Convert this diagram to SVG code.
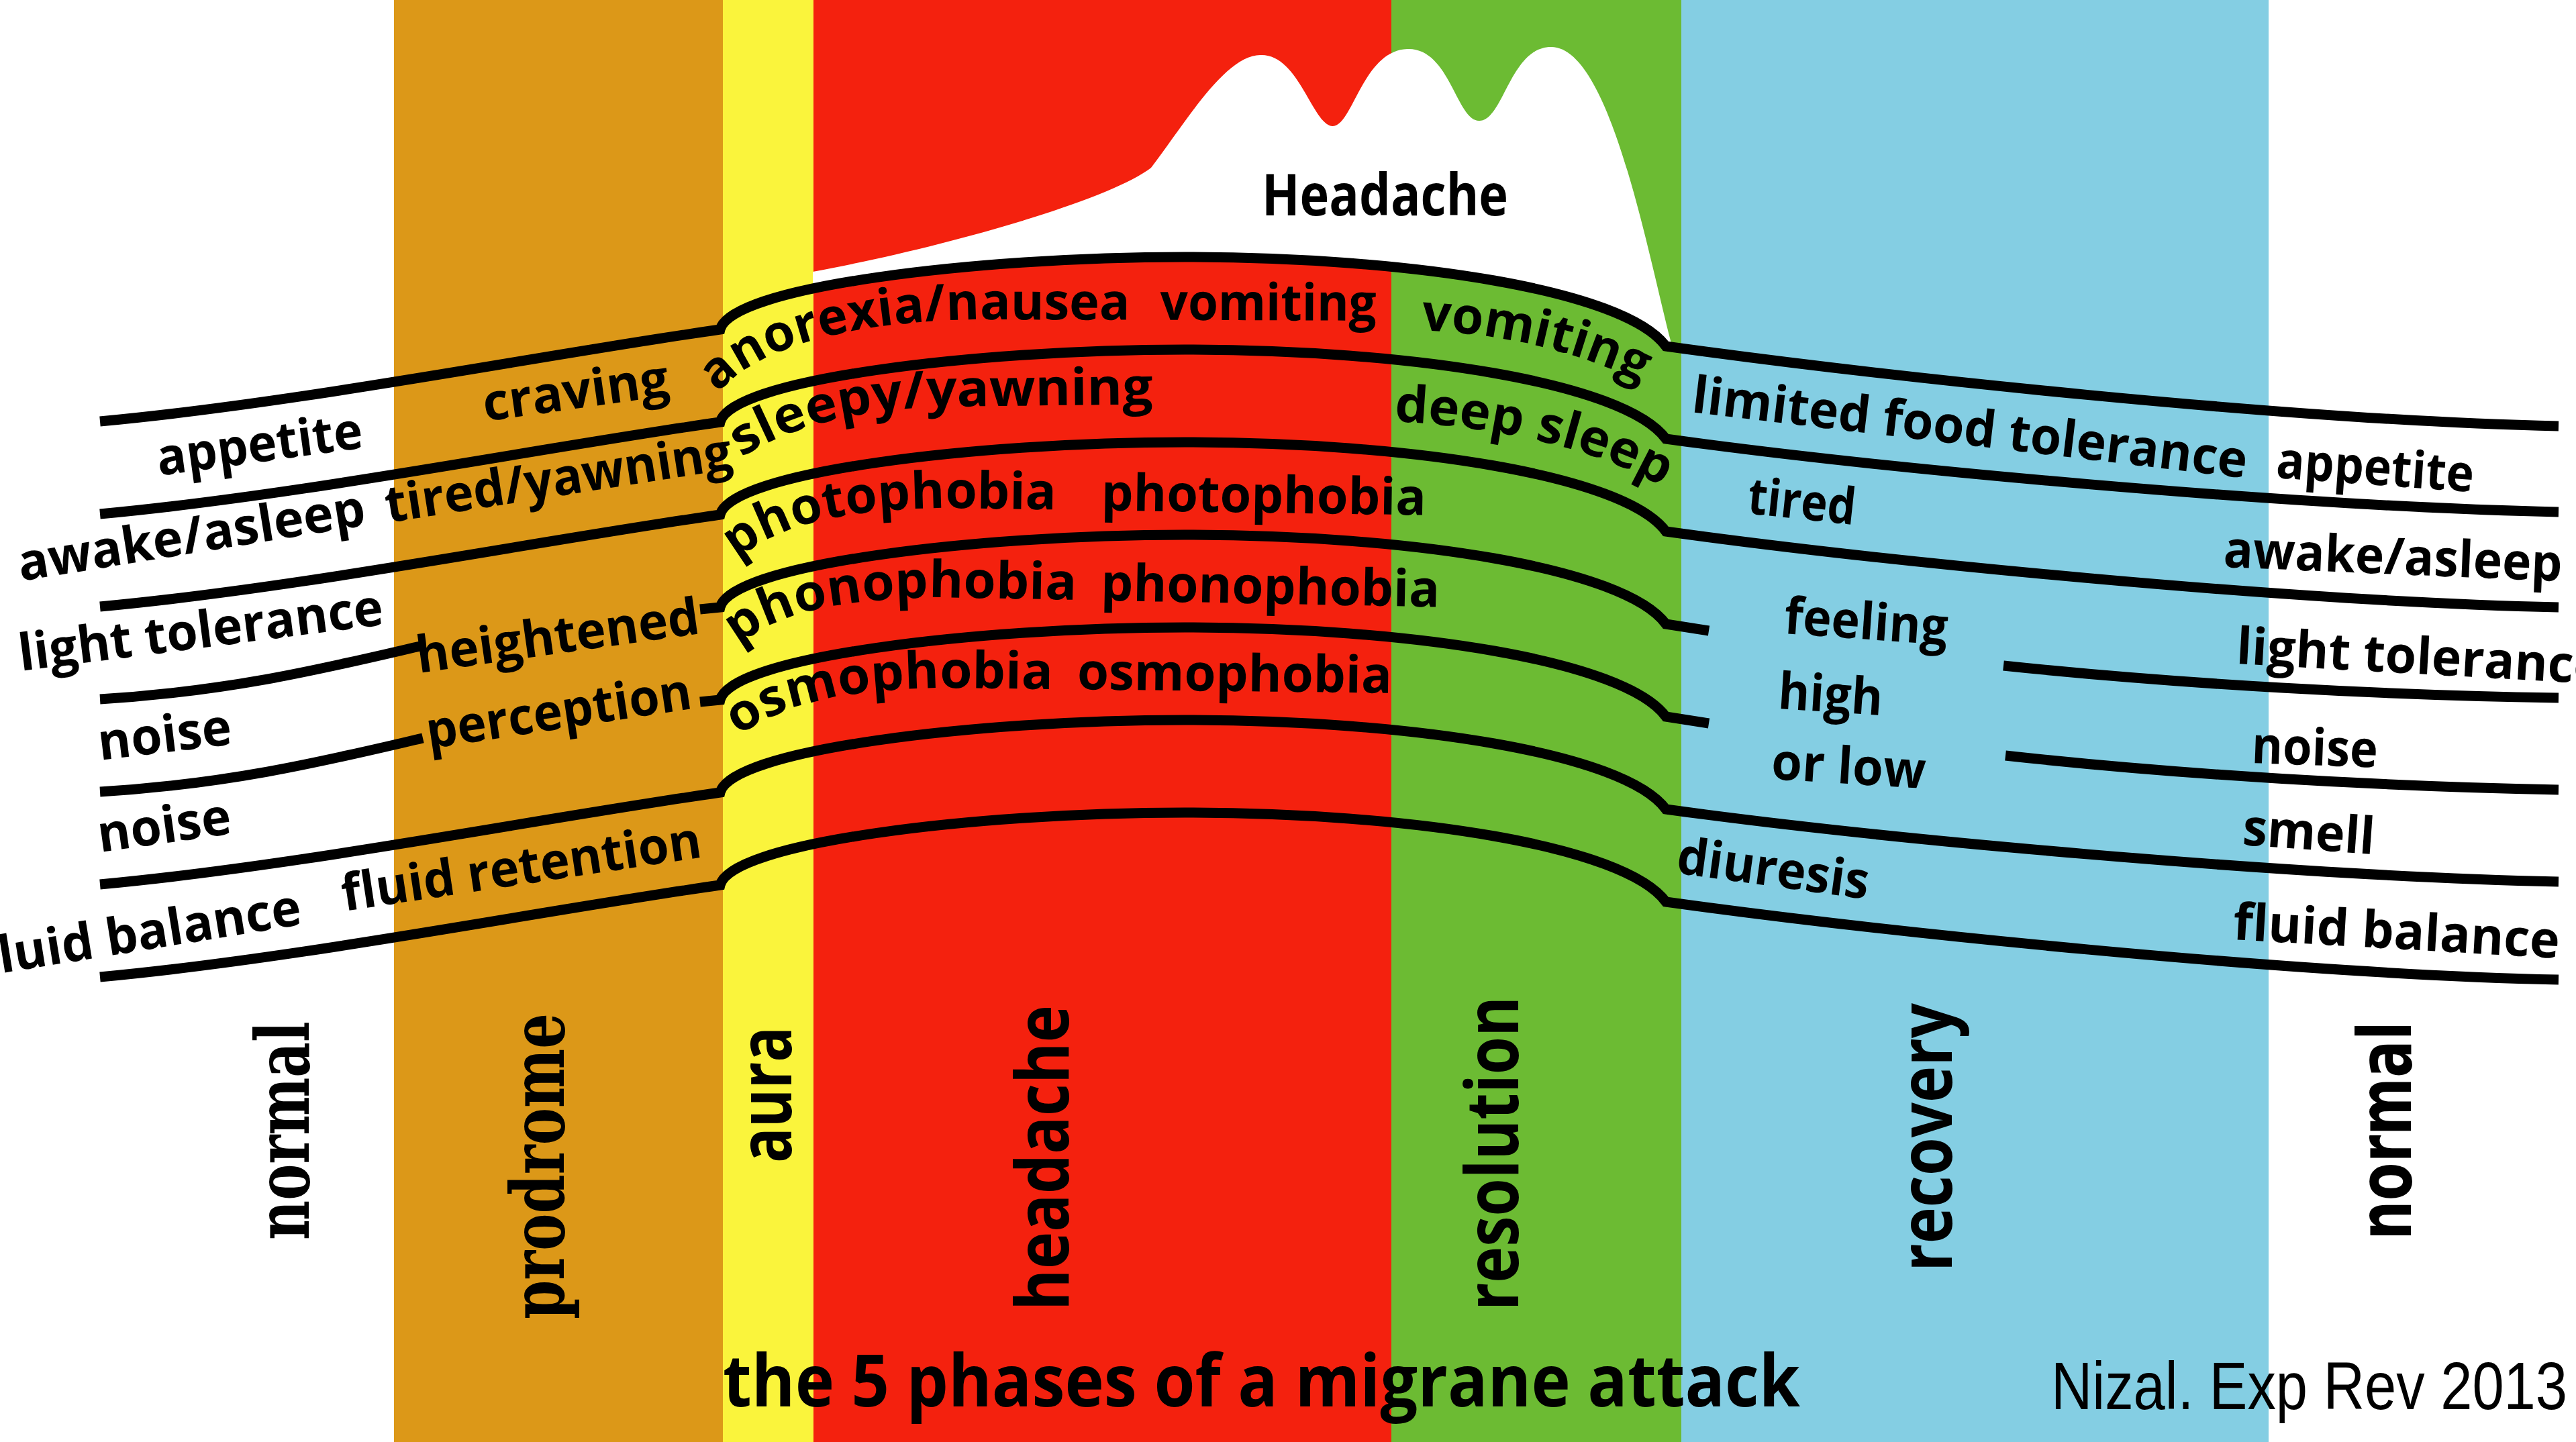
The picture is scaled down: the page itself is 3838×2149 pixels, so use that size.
<svg xmlns="http://www.w3.org/2000/svg" width="3838" height="2149" viewBox="0 0 3838 2149">
<style>
.t{font-family:"Open Sans","Noto Sans",sans-serif;font-weight:700;font-size:76px;fill:#000}
.lab{font-family:"Open Sans","Noto Sans",sans-serif;font-weight:700;font-size:110px;fill:#000}
.slab{font-family:"DejaVu Serif",serif;font-weight:700;font-size:110px;fill:#000}
.ln{fill:none;stroke:#000;stroke-width:15;stroke-linejoin:miter;stroke-miterlimit:6}
</style>
<defs>
<clipPath id="hc"><rect x="1211" y="0" width="1400" height="800"/></clipPath>
<path id="p1" d="M1070,586 C1125,520 1260,480 1450,476 L2100,478"/>
<path id="p2" d="M1105,682 C1170,640 1260,612 1400,606 L1750,602"/>
<path id="p3" d="M1098,834 C1160,783 1250,760 1400,757 L2150,768"/>
<path id="p4" d="M1100,962 C1160,912 1250,893 1400,890 L2160,905"/>
<path id="p5" d="M1100,1097 C1170,1047 1260,1028 1400,1025 L2100,1033"/>
<path id="p6" d="M2117,492 C2250,499 2360,526 2452,574 L2470,585"/>
<path id="p7" d="M2077,628 C2230,636 2380,667 2484,730 L2500,742"/>
</defs>
<rect width="3838" height="2149" fill="#fff"/>
<g id="phases">
<rect x="587" y="0" width="490" height="2149" fill="#DC9818"/>
<rect x="1077" y="0" width="135" height="2149" fill="#FAF43C"/>
<rect x="1212" y="0" width="861" height="2149" fill="#F4210E"/>
<rect x="2073" y="0" width="432" height="2149" fill="#6CBB33"/>
<rect x="2505" y="0" width="875" height="2149" fill="#84CEE3"/>
</g>
<g id="headache-curve">
<path clip-path="url(#hc)" fill="#fff" d="M1211,405 C1400,370 1650,300 1715,250 C1765,185 1825,82 1878,82 C1935,80 1955,185 1985,188 C2015,190 2030,75 2097,73 C2160,71 2170,180 2204,180 C2240,180 2250,70 2311,70 C2400,70 2455,380 2492,519 L2482,516 C2420,432 2100,383 1765,383 C1450,383 1088,428 1073,491 Z"/>
<text class="t" x="1880" y="321" style="font-size:86px" textLength="367" lengthAdjust="spacingAndGlyphs">Headache</text>
</g>
<g id="connectors" class="ln">
<path d="M149,628 C450,600 800,530 1073,491 C1088,428 1450,383 1765,383 C2100,383 2420,432 2482,516 C2800,560 3400,626 3812,635"/>
<path d="M149,766 C450,738 800,668 1073,629 C1088,566 1450,521 1765,521 C2100,521 2420,570 2482,654 C2800,698 3400,754 3812,763"/>
<path d="M149,904 C450,876 800,806 1073,767 C1088,704 1450,659 1765,659 C2100,659 2420,708 2482,792 C2800,836 3400,896 3812,905"/>
<path d="M149,1042 C350,1030 500,992 630,962 M1043,908 L1073,905 C1088,842 1450,797 1765,797 C2100,797 2420,846 2482,930 L2546,940 M2985,992 C3250,1020 3550,1036 3812,1040"/>
<path d="M149,1180 C350,1168 500,1130 630,1100 M1043,1046 L1073,1043 C1088,980 1450,935 1765,935 C2100,935 2420,984 2482,1068 L2546,1078 M2988,1126 C3250,1155 3550,1172 3812,1177"/>
<path d="M149,1318 C450,1290 800,1220 1073,1181 C1088,1118 1450,1073 1765,1073 C2100,1073 2420,1122 2482,1206 C2800,1250 3400,1305 3812,1314"/>
<path d="M149,1456 C450,1428 800,1358 1073,1319 C1088,1256 1450,1211 1765,1211 C2100,1211 2420,1260 2482,1344 C2800,1388 3400,1451 3812,1460"/>
</g>
<g id="left-labels">
<text class="t" transform="translate(237,709) rotate(-7.8)" textLength="309" lengthAdjust="spacingAndGlyphs">appetite</text>
<text class="t" transform="translate(723,628) rotate(-8)" textLength="279" lengthAdjust="spacingAndGlyphs">craving</text>
<text class="t" transform="translate(31,866) rotate(-9.2)" textLength="523" lengthAdjust="spacingAndGlyphs">awake/asleep</text>
<text class="t" transform="translate(578,779) rotate(-8.9)" textLength="522" lengthAdjust="spacingAndGlyphs">tired/yawning</text>
<text class="t" transform="translate(31,1000) rotate(-7.3)" textLength="547" lengthAdjust="spacingAndGlyphs">light tolerance</text>
<text class="t" transform="translate(624,1003) rotate(-8)" textLength="425" lengthAdjust="spacingAndGlyphs">heightened</text>
<text class="t" transform="translate(149,1133) rotate(-6.9)" textLength="200" lengthAdjust="spacingAndGlyphs">noise</text>
<text class="t" transform="translate(639,1116) rotate(-8.7)" textLength="399" lengthAdjust="spacingAndGlyphs">perception</text>
<text class="t" transform="translate(149,1270) rotate(-8)" textLength="200" lengthAdjust="spacingAndGlyphs">noise</text>
<text class="t" transform="translate(-27,1455) rotate(-9.2)" textLength="485" lengthAdjust="spacingAndGlyphs">fluid balance</text>
<text class="t" transform="translate(513,1358) rotate(-8.6)" textLength="541" lengthAdjust="spacingAndGlyphs">fluid retention</text>
</g>
<g id="middle-labels">
<text class="t"><textPath href="#p1" textLength="639" lengthAdjust="spacingAndGlyphs">anorexia/nausea</textPath></text>
<text class="t"><textPath href="#p1" startOffset="684" textLength="322" lengthAdjust="spacingAndGlyphs">vomiting</textPath></text>
<text class="t"><textPath href="#p2" textLength="626" lengthAdjust="spacingAndGlyphs">sleepy/yawning</textPath></text>
<text class="t"><textPath href="#p3" textLength="491" lengthAdjust="spacingAndGlyphs">photophobia</textPath></text>
<text class="t"><textPath href="#p3" startOffset="558" textLength="484" lengthAdjust="spacingAndGlyphs">photophobia</textPath></text>
<text class="t"><textPath href="#p4" textLength="518" lengthAdjust="spacingAndGlyphs">phonophobia</textPath></text>
<text class="t"><textPath href="#p4" startOffset="554" textLength="505" lengthAdjust="spacingAndGlyphs">phonophobia</textPath></text>
<text class="t"><textPath href="#p5" textLength="482" lengthAdjust="spacingAndGlyphs">osmophobia</textPath></text>
<text class="t"><textPath href="#p5" startOffset="518" textLength="469" lengthAdjust="spacingAndGlyphs">osmophobia</textPath></text>
<text class="t"><textPath href="#p6" textLength="340" lengthAdjust="spacingAndGlyphs">vomiting</textPath></text>
<text class="t"><textPath href="#p7" textLength="415" lengthAdjust="spacingAndGlyphs">deep sleep</textPath></text>
</g>
<g id="right-labels">
<text class="t" transform="translate(2519,614) rotate(6.8)" textLength="832" lengthAdjust="spacingAndGlyphs">limited food tolerance</text>
<text class="t" transform="translate(3390,712) rotate(4.1)" textLength="295" lengthAdjust="spacingAndGlyphs">appetite</text>
<text class="t" transform="translate(2602,765) rotate(6.1)" textLength="161" lengthAdjust="spacingAndGlyphs">tired</text>
<text class="t" transform="translate(3312,845) rotate(2.4)" textLength="505" lengthAdjust="spacingAndGlyphs">awake/asleep</text>
<text class="t" transform="translate(2657,944) rotate(4)" textLength="244" lengthAdjust="spacingAndGlyphs">feeling</text>
<text class="t" transform="translate(2648,1056) rotate(3.7)" textLength="156" lengthAdjust="spacingAndGlyphs">high</text>
<text class="t" transform="translate(2638,1161) rotate(3.5)" textLength="230" lengthAdjust="spacingAndGlyphs">or low</text>
<text class="t" transform="translate(3331,989) rotate(3.2)" textLength="547" lengthAdjust="spacingAndGlyphs">light tolerance</text>
<text class="t" transform="translate(3354,1137) rotate(2.1)" textLength="188" lengthAdjust="spacingAndGlyphs">noise</text>
<text class="t" transform="translate(3340,1259) rotate(4.1)" textLength="197" lengthAdjust="spacingAndGlyphs">smell</text>
<text class="t" transform="translate(2496,1301) rotate(7.8)" textLength="288" lengthAdjust="spacingAndGlyphs">diuresis</text>
<text class="t" transform="translate(3326,1400) rotate(3.3)" textLength="487" lengthAdjust="spacingAndGlyphs">fluid balance</text>
</g>
<g id="phase-labels">
<text class="slab" transform="translate(460,1848) rotate(-90)" textLength="326" lengthAdjust="spacingAndGlyphs">normal</text>
<text class="slab" transform="translate(840,1966) rotate(-90)" textLength="456" lengthAdjust="spacingAndGlyphs">prodrome</text>
<text class="lab" transform="translate(1179,1733) rotate(-90)" textLength="203" lengthAdjust="spacingAndGlyphs">aura</text>
<text class="lab" transform="translate(1592,1953) rotate(-90)" textLength="455" lengthAdjust="spacingAndGlyphs">headache</text>
<text class="lab" transform="translate(2262,1953) rotate(-90)" textLength="468" lengthAdjust="spacingAndGlyphs">resolution</text>
<text class="lab" transform="translate(2908,1895) rotate(-90)" textLength="400" lengthAdjust="spacingAndGlyphs">recovery</text>
<text class="lab" style="font-family:'DejaVu Sans',sans-serif" transform="translate(3592,1848) rotate(-90)" textLength="326" lengthAdjust="spacingAndGlyphs">normal</text>
</g>
<g id="title">
<text class="t" x="1077" y="2096" style="font-size:108px" textLength="1605" lengthAdjust="spacingAndGlyphs">the 5 phases of a migrane attack</text>
<text x="3056" y="2100" style="font-family:'Liberation Sans',Arial,sans-serif;font-size:100px;fill:#000" textLength="769" lengthAdjust="spacingAndGlyphs">Nizal. Exp Rev 2013</text>
</g>
</svg>
